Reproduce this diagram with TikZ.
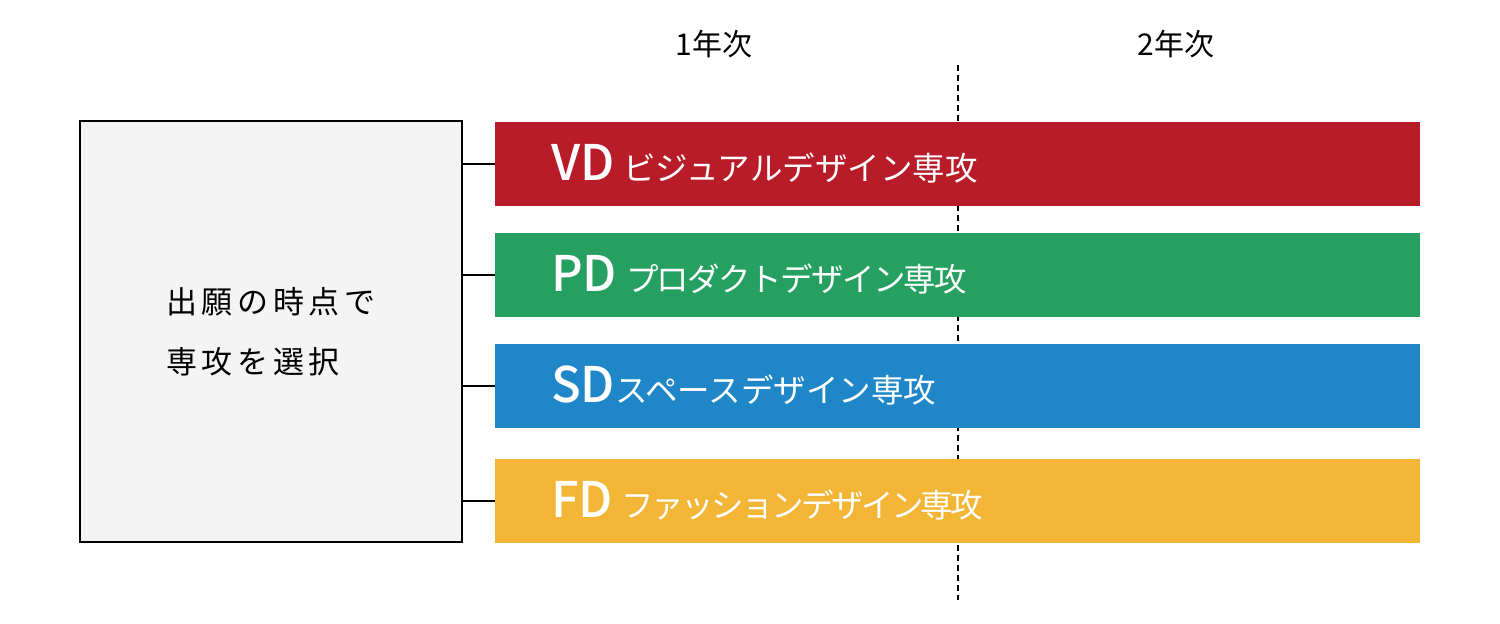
\documentclass[tikz,border=0pt]{standalone}
\usepackage{fontspec}
\setmainfont{Noto Sans CJK JP}[BoldFont={* Medium}]
\newfontfamily\widejp[LetterSpace=15]{Noto Sans CJK JP}
\definecolor{vdred}{RGB}{183,28,40}
\definecolor{pdgreen}{RGB}{38,160,96}
\definecolor{sdblue}{RGB}{31,135,199}
\definecolor{fdyellow}{RGB}{243,181,54}
\definecolor{boxgray}{RGB}{244,244,244}
\newcommand{\course}[2]{{\bfseries\fontsize{49}{49}\selectfont #1}{\fontsize{32.5}{32.5}\selectfont #2}}

\begin{document}
\begin{tikzpicture}[x=1pt,y=-1pt,
    bar/.style={rectangle,minimum width=925pt,minimum height=84pt,inner xsep=56pt,text width=813pt,align=left,text=white},
    link/.style={line width=2pt},
    yearlabel/.style={font=\fontsize{30}{30}\selectfont}]
        \useasboundingbox (0,0) rectangle (1500,624);

        % Year divider
        \coordinate (divtop) at (958,65);
        \coordinate (divbot) at (958,600);
        \draw[line width=1.5pt,dash pattern=on 6pt off 4pt] (divtop) -- (divbot);

        % Years
        \node[yearlabel] (year1) at (714,44) {1年次};
        \node[yearlabel] (year2) at (1176,44) {2年次};

        % Choice box
        \node[rectangle,draw,line width=2pt,fill=boxgray,minimum width=382pt,minimum height=421pt,align=left,
              font=\widejp\fontsize{31}{60}\selectfont] (choice) at (271,331.5) {出願の時点で\\専攻を選択};

        % Courses
        \node[bar,fill=vdred] (vd) at (957.5,163.5) {\course{VD}{\hspace{9pt}ビジュアルデザイン専攻}};
        \node[bar,fill=pdgreen] (pd) at (957.5,275) {\course{PD}{\hspace{9pt}\addfontfeature{LetterSpace=-5}プロダクトデザイン専攻}};
        \node[bar,fill=sdblue] (sd) at (957.5,385.5) {\course{SD}{スペースデザイン専攻}};
        \node[bar,fill=fdyellow] (fd) at (957.5,500.5) {\course{FD}{\hspace{9pt}\addfontfeature{LetterSpace=-8}ファッションデザイン専攻}};

        % Links
        \draw[link] (choice.east |- vd.west) -- (vd.west);
        \draw[link] (choice.east |- pd.west) -- (pd.west);
        \draw[link] (choice.east |- sd.west) -- (sd.west);
        \draw[link] (choice.east |- fd.west) -- (fd.west);
    \end{tikzpicture}
\end{document}
